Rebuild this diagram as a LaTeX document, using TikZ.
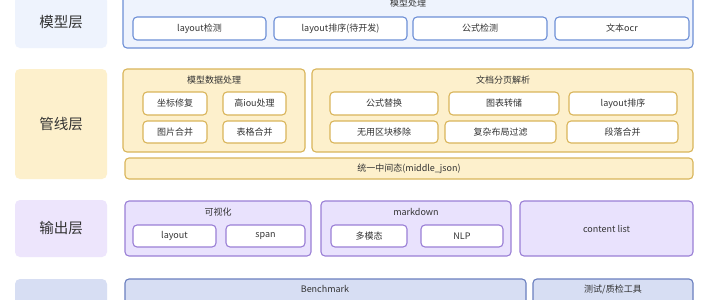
\documentclass[tikz,border=0pt]{standalone}
\usepackage{fontspec}
\setmainfont{Noto Sans CJK SC}
\definecolor{txt}{HTML}{333333}
\definecolor{bfill}{HTML}{EEF3FD}
\definecolor{bline}{HTML}{6D8FD6}
\definecolor{yfill}{HTML}{FDF0CC}
\definecolor{yline}{HTML}{D9B55A}
\definecolor{pfill}{HTML}{E9E2FD}
\definecolor{pline}{HTML}{9A7FD6}
\definecolor{pleft}{HTML}{EDE5FC}
\definecolor{dfill}{HTML}{D7DEF3}
\definecolor{dline}{HTML}{6A7FBF}
\tikzset{
  base/.style={rounded corners=4pt, inner sep=0pt, text=txt, font=\fontsize{9}{11}\selectfont},
  layerbox/.style={base, font=\fontsize{14.5}{17}\selectfont, rounded corners=5pt},
  cont/.style={base, line width=1.1pt},
  inbox/.style={base, line width=1.1pt, fill=white},
  ttl/.style={inner sep=0pt, text=txt, font=\fontsize{9}{11}\selectfont},
}
\newcommand\R[7]{\node[#2, minimum width={(#5-#3)*1pt}, minimum height={(#6-#4)*1pt}] (#1) at ({(#3+#5)/2},{(#4+#6)/2}) {#7};}
\begin{document}
\begin{tikzpicture}[x=1pt,y=-1pt]
\useasboundingbox (0,0) rectangle (710,300);
\clip (0,0) rectangle (710,300);
\fill[white] (0,0) rectangle (710,300);
% layer labels
\R{L1}{layerbox, fill=bfill}{15}{-4}{107}{48}{模型层}
\R{L2}{layerbox, fill=yfill}{15}{69}{107}{179}{管线层}
\R{L3}{layerbox, fill=pleft}{15}{200}{107}{257}{输出层}
\R{L4}{layerbox, fill=dfill}{15}{279}{107}{340}{}
% model layer
\R{M}{cont, draw=bline, fill=bfill}{123}{-12}{693}{48}{}
\node[ttl] (Mt) at (408,3) {模型处理};
\R{m1}{inbox, draw=bline}{133}{17}{266}{40}{layout检测}
\R{m2}{inbox, draw=bline}{274}{17}{407}{40}{layout排序(待开发)}
\R{m3}{inbox, draw=bline}{413}{17}{547}{40}{公式检测}
\R{m4}{inbox, draw=bline}{555}{17}{689}{40}{文本ocr}
% pipeline layer
\R{P1}{cont, draw=yline, fill=yfill}{123}{69}{305}{152}{}
\node[ttl] (P1t) at (214,80) {模型数据处理};
\R{p11}{inbox, draw=yline}{143}{92}{207}{115}{坐标修复}
\R{p12}{inbox, draw=yline}{223}{92}{286}{115}{高iou处理}
\R{p13}{inbox, draw=yline}{143}{121}{207}{143}{图片合并}
\R{p14}{inbox, draw=yline}{223}{121}{286}{143}{表格合并}
\R{P2}{cont, draw=yline, fill=yfill}{312}{69}{693}{152}{}
\node[ttl] (P2t) at (503,80) {文档分页解析};
\R{p21}{inbox, draw=yline}{330}{92}{438}{115}{公式替换}
\R{p22}{inbox, draw=yline}{449}{92}{559}{115}{图表转储}
\R{p23}{inbox, draw=yline}{569}{92}{677}{115}{layout排序}
\R{p24}{inbox, draw=yline}{330}{121}{438}{143}{无用区块移除}
\R{p25}{inbox, draw=yline}{445}{121}{556}{143}{复杂布局过滤}
\R{p26}{inbox, draw=yline}{567}{121}{678}{143}{段落合并}
\R{J}{cont, draw=yline, fill=yfill}{125}{158}{693}{179}{统一中间态(middle\_json)}
% output layer
\R{O1}{cont, draw=pline, fill=pfill}{125}{201}{311}{256}{}
\node[ttl] (O1t) at (218,212) {可视化};
\R{o11}{inbox, draw=pline}{133}{225}{216}{247}{layout}
\R{o12}{inbox, draw=pline}{226}{225}{305}{247}{span}
\R{O2}{cont, draw=pline, fill=pfill}{321}{201}{511}{256}{}
\node[ttl] (O2t) at (416,212) {markdown};
\R{o21}{inbox, draw=pline}{331}{225}{407}{247}{多模态}
\R{o22}{inbox, draw=pline}{421}{225}{503}{247}{NLP}
\R{O3}{cont, draw=pline, fill=pfill}{520}{201}{693}{256}{content list}
% bottom layer
\R{B1}{cont, draw=dline, fill=dfill}{125}{279}{526}{340}{}
\node[ttl] (B1t) at (325,289) {Benchmark};
\R{B2}{cont, draw=dline, fill=dfill}{533}{279}{693}{340}{}
\node[ttl] (B2t) at (613,289) {测试/质检工具};
\end{tikzpicture}
\end{document}
